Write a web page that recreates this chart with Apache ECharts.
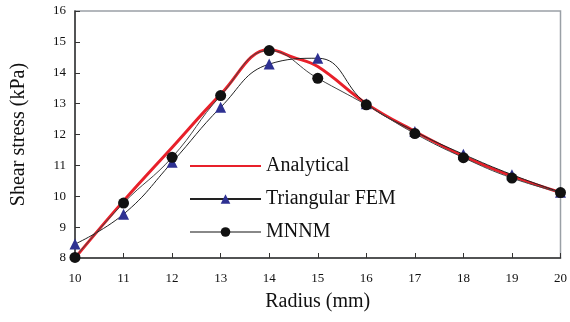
<!DOCTYPE html>
<html>
<head>
<meta charset="utf-8">
<script src="https://cdn.jsdelivr.net/npm/echarts@6/dist/echarts.min.js"></script>
<style>
  html, body { margin: 0; padding: 0; background: #fff; }
  #chart { width: 570px; height: 322px; }
</style>
</head>
<body>
<div id="chart"></div>
<script>
// 半径 (mm)
var radius = [10, 11, 12, 13, 14, 15, 16, 17, 18, 19, 20];
// 解析解 (取了几个中间点让峰值形状更像)
var analyticalX = [10, 11, 12, 13, 14, 14.5, 15, 16, 17, 18, 19, 20];
var analytical = [8.0, 9.85, 11.58, 13.3, 14.75, 14.5, 14.2, 13.0, 12.1, 11.3, 10.65, 10.12];
var femValues = [8.45, 9.42, 11.1, 12.88, 14.28, 14.47, 13.0, 12.1, 11.36, 10.7, 10.13];
var mnnmValues = [8.02, 9.78, 11.26, 13.26, 14.72, 13.82, 12.96, 12.03, 11.25, 10.59, 10.12];

function pairs(xs, ys) {
  return xs.map(function (x, i) { return [x, ys[i]]; });
}

var serif = "Liberation Serif";
var myChart = echarts.init(document.getElementById('chart'));

myChart.setOption({
  animation: false,
  grid: {
    left: 75,
    right: 8,
    top: 11,
    bottom: 64,
    show: true,
    borderColor: '#9aa0a6',
    borderWidth: 1.5
  },
  legend: {
    orient: 'vertical',
    left: 184,
    top: 151,
    itemWidth: 71,
    itemHeight: 12,
    itemGap: 13,
    textStyle: { fontFamily: serif, fontSize: 20, color: '#111' },
    data: [
      // 解析解图例只要线，不要点
      { name: 'Analytical', itemStyle: { opacity: 0 } },
      'Triangular FEM',
      { name: 'MNNM', lineStyle: { color: '#888', width: 2 } }
    ]
  },
  xAxis: {
    type: 'value',
    min: 10,
    max: 20,
    interval: 1,
    name: 'Radius (mm)',
    nameLocation: 'middle',
    nameGap: 34,
    nameTextStyle: { fontFamily: serif, fontSize: 20, color: '#111' },
    axisLine: { lineStyle: { color: '#333', width: 1.5 } },
    axisTick: { inside: true, length: 5, lineStyle: { color: '#333' } },
    axisLabel: { fontFamily: serif, fontSize: 13, color: '#111', margin: 14 },
    splitLine: { show: false }
  },
  yAxis: {
    type: 'value',
    min: 8,
    max: 16,
    interval: 1,
    name: 'Shear stress (kPa)',
    nameLocation: 'middle',
    nameGap: 46,
    nameTextStyle: { fontFamily: serif, fontSize: 20, color: '#111' },
    axisLine: { lineStyle: { color: '#333', width: 1.5 } },
    axisTick: { inside: true, length: 5, lineStyle: { color: '#333' } },
    axisLabel: { fontFamily: serif, fontSize: 13, color: '#111', margin: 9 },
    splitLine: { show: false }
  },
  series: [
    {
      name: 'Analytical',
      type: 'line',
      smooth: 0.4,
      symbol: 'none',
      z: 2,
      lineStyle: { color: '#e8202a', width: 3 },
      itemStyle: { color: '#e8202a' },
      data: pairs(analyticalX, analytical)
    },
    {
      name: 'Triangular FEM',
      type: 'line',
      smooth: 0.45,
      symbol: 'triangle',
      symbolSize: 11,
      z: 3,
      lineStyle: { color: '#222', width: 1 },
      itemStyle: { color: '#2e3192' },
      data: pairs(radius, femValues)
    },
    {
      name: 'MNNM',
      type: 'line',
      smooth: 0.45,
      symbol: 'circle',
      symbolSize: 11,
      z: 4,
      lineStyle: { color: '#444', width: 1 },
      itemStyle: { color: '#111' },
      data: pairs(radius, mnnmValues)
    }
  ]
});
</script>
</body>
</html>
